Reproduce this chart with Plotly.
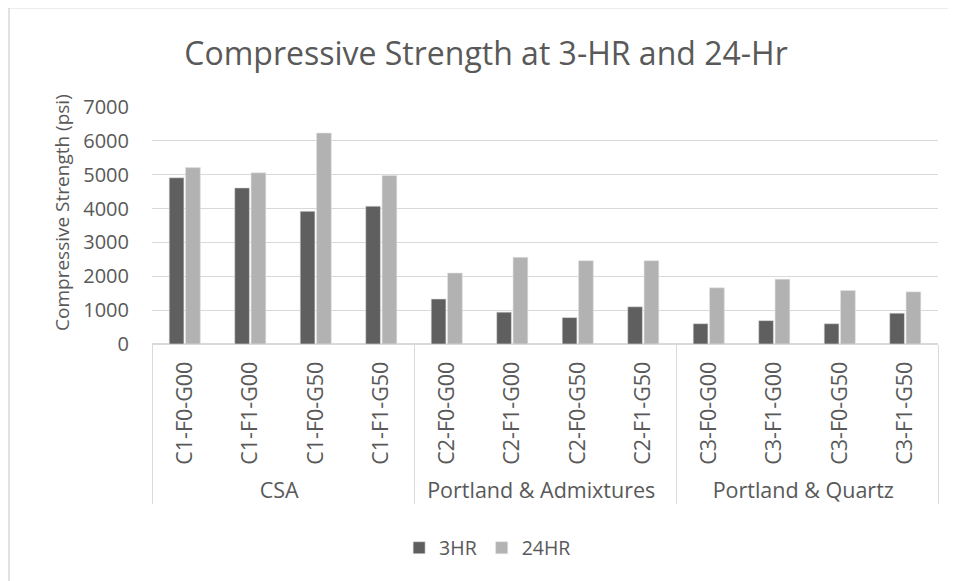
import plotly.graph_objects as go

# Data
groups = ["CSA"] * 4 + ["Portland & Admixtures"] * 4 + ["Portland & Quartz"] * 4
mixes = ["C1-F0-G00", "C1-F1-G00", "C1-F0-G50", "C1-F1-G50",
         "C2-F0-G00", "C2-F1-G00", "C2-F0-G50", "C2-F1-G50",
         "C3-F0-G00", "C3-F1-G00", "C3-F0-G50", "C3-F1-G50"]
hr3 = [4910, 4610, 3920, 4070, 1330, 940, 780, 1100, 600, 690, 600, 910]
hr24 = [5210, 5055, 6230, 4975, 2095, 2560, 2460, 2460, 1660, 1915, 1580, 1540]
ytick_vals = [0, 1000, 2000, 3000, 4000, 5000, 6000, 7000]

font_family = "Open Sans, sans-serif"
text_color = "#595959"
grid_color = "#d9d9d9"

fig = go.Figure()
fig.add_trace(go.Bar(
    x=[groups, mixes], y=hr3, name="3HR",
    marker=dict(color="#5f5f5f", line=dict(color="#e0e0e0", width=0.6)),
))
fig.add_trace(go.Bar(
    x=[groups, mixes], y=hr24, name="24HR",
    marker=dict(color="#b2b2b2", line=dict(color="#e0e0e0", width=0.6)),
))

# plot area: page x 152-938, y 107-344 (page has an 8px body margin)
fig.update_layout(
    width=956, height=581,
    margin=dict(l=144, r=26, t=99, b=245),
    paper_bgcolor="white", plot_bgcolor="white",
    barmode="group", bargap=0.5, bargroupgap=0.1,
    font=dict(family=font_family, color=text_color, size=20),
    title=dict(text="Compressive Strength at 3-HR and 24-Hr",
               x=0.5, xanchor="center", y=1 - 46 / 581, yanchor="middle",
               font=dict(size=32, color=text_color)),
    legend=dict(orientation="h", x=0.427, xanchor="center",
                y=-0.861, yanchor="middle", font=dict(size=19.5),
                itemwidth=30, tracegroupgap=0),
    showlegend=True,
)

fig.update_yaxes(
    range=[0, 7000], tickvals=ytick_vals, showgrid=True,
    gridcolor=grid_color, gridwidth=1, zeroline=True, zerolinecolor=grid_color,
    showline=False, ticks="", ticklabelstandoff=22, automargin=False,
    tickfont=dict(size=20, color=text_color),
)
fig.update_xaxes(
    type="multicategory", tickangle=-90, automargin=False,
    showline=True, linecolor=grid_color, linewidth=1,
    showdividers=True, dividercolor=grid_color, dividerwidth=1,
    ticks="", ticklabelstandoff=8,
    tickfont=dict(size=21.5, color=text_color),
    showgrid=False,
)

# y-axis title, sitting a little above the plot's mid-height as in the reference
fig.add_annotation(text="Compressive Strength (psi)", textangle=-90,
                   xref="paper", yref="paper", x=-90 / 786, y=0.553,
                   xanchor="center", yanchor="middle", showarrow=False,
                   font=dict(size=19, color=text_color))

# outer chart border (top and left edges visible in the reference)
fig.add_shape(type="line", xref="paper", yref="paper",
              x0=-144 / 786, x1=1.2, y0=336 / 237 + 0.001, y1=336 / 237 + 0.001,
              line=dict(color=grid_color, width=1.5))
fig.add_shape(type="line", xref="paper", yref="paper",
              x0=-143 / 786, x1=-143 / 786, y0=-1.2, y1=336 / 237,
              line=dict(color=grid_color, width=1.5))

fig.write_html("out.html")
